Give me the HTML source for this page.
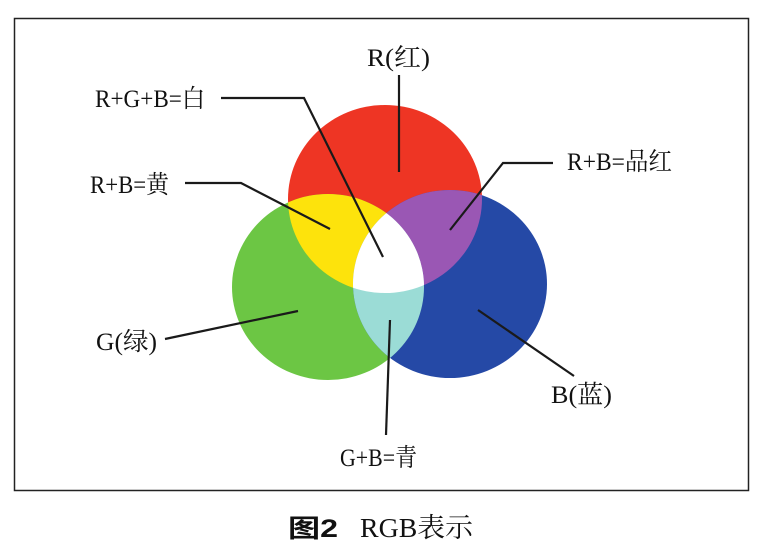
<!DOCTYPE html>
<html><head><meta charset="utf-8"><style>
html,body{margin:0;padding:0;background:#fff;}
svg{display:block;}
text{font-family:"Liberation Serif","Noto Serif CJK SC",serif;font-size:25px;fill:#111;}
</style></head><body>
<svg width="766" height="549" viewBox="0 0 766 549" xmlns="http://www.w3.org/2000/svg">
<defs>
<clipPath id="cr"><ellipse cx="385" cy="199" rx="97" ry="94"/></clipPath>
<clipPath id="cg"><ellipse cx="328" cy="287" rx="96" ry="93"/></clipPath>
<clipPath id="cb"><ellipse cx="450" cy="284" rx="97" ry="94"/></clipPath>
</defs>
<rect x="14.5" y="18.5" width="734" height="472" fill="none" stroke="#222" stroke-width="1.5"/>
<ellipse cx="385" cy="199" rx="97" ry="94" fill="#ee3524"/>
<ellipse cx="328" cy="287" rx="96" ry="93" fill="#6cc644"/>
<ellipse cx="450" cy="284" rx="97" ry="94" fill="#2549a6"/>
<g clip-path="url(#cr)"><ellipse cx="328" cy="287" rx="96" ry="93" fill="#fde30c"/></g>
<g clip-path="url(#cr)"><ellipse cx="450" cy="284" rx="97" ry="94" fill="#9a57b4"/></g>
<g clip-path="url(#cg)"><ellipse cx="450" cy="284" rx="97" ry="94" fill="#9bdcd6"/></g>
<g clip-path="url(#cr)"><g clip-path="url(#cg)"><ellipse cx="450" cy="284" rx="97" ry="94" fill="#fff"/></g></g>
<g stroke="#1a1a1a" stroke-width="2.2" fill="none">
<line x1="399" y1="75" x2="399" y2="172"/>
<polyline points="221,98 304,98 383,257"/>
<polyline points="185,183 241,183 330,229"/>
<polyline points="553,163 503,163 450,230"/>
<line x1="165" y1="339" x2="298" y2="311"/>
<line x1="390" y1="320" x2="386" y2="435"/>
<line x1="478" y1="310" x2="574" y2="376"/>
</g>
<text x="367" y="66" textLength="63" lengthAdjust="spacingAndGlyphs">R(红)</text>
<text x="95" y="107" textLength="110" lengthAdjust="spacingAndGlyphs">R+G+B=白</text>
<text x="90" y="193" textLength="79" lengthAdjust="spacingAndGlyphs">R+B=黄</text>
<text x="567" y="170" textLength="105" lengthAdjust="spacingAndGlyphs">R+B=品红</text>
<text x="96" y="350" textLength="61" lengthAdjust="spacingAndGlyphs">G(绿)</text>
<text x="551" y="403" textLength="61" lengthAdjust="spacingAndGlyphs">B(蓝)</text>
<text x="340" y="466" textLength="77" lengthAdjust="spacingAndGlyphs">G+B=青</text>
<text x="288" y="537" style="font-family:'Liberation Sans','Noto Sans CJK SC',sans-serif;font-weight:bold;font-size:25px" textLength="50" lengthAdjust="spacingAndGlyphs">图2</text>
<text x="360" y="537" style="font-size:27px" textLength="113" lengthAdjust="spacingAndGlyphs">RGB表示</text>
</svg>
</body></html>
